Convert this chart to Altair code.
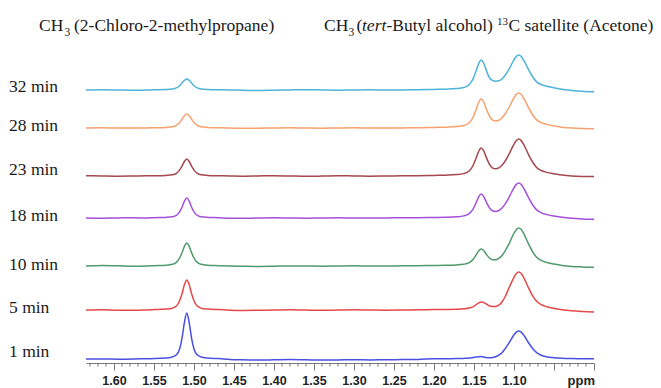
import altair as alt
import pandas as pd

# ---------------- data ----------------
series = ["32 min", "28 min", "23 min", "18 min", "10 min", "5 min", "1 min"]
colors = ["#4db3d9", "#f5a170", "#a5474d", "#a44fdc", "#4f9a6d", "#e4484a", "#4a50e0"]
offsets = [273, 235, 187, 145, 97, 53, 4]          # vertical stacking of each trace
label_y = [271, 232, 188, 142, 93, 50, 6]           # baseline of each row label

ppm = [1.635, 1.615, 1.595, 1.575, 1.56,
       1.549, 1.535, 1.527, 1.522, 1.518, 1.515, 1.512, 1.509, 1.506, 1.503, 1.500, 1.496, 1.491, 1.483, 1.469,
       1.455, 1.44, 1.42, 1.40, 1.38, 1.36, 1.34, 1.32, 1.30, 1.28, 1.26, 1.24, 1.22,
       1.200, 1.185, 1.172, 1.163, 1.156, 1.151, 1.147, 1.144, 1.141, 1.138, 1.135, 1.131, 1.127,
       1.123, 1.119, 1.115, 1.111, 1.106, 1.101, 1.097, 1.094, 1.091, 1.087, 1.082, 1.077, 1.072,
       1.066, 1.059, 1.05, 1.04, 1.028, 1.015, 1.00]

int_32 = [0.0, 0.3, 0.0, -0.3, 0.0,
          0.19, 0.45, 0.96, 2.1, 4.3, 6.9, 9.6, 11.0, 9.6, 6.9, 4.3, 2.1, 0.96, 0.45, 0.19,
          0.1, -0.2, -0.4, -0.2, 0.1, 0.3, 0.1, -0.2, 0.0, 0.2, 0.0, 0.1, 0.3,
          0.58, 0.86, 1.43, 2.49, 5.33, 11.37, 19.92, 26.68, 29.98, 27.03, 20.61, 12.75, 9.6,
          8.8, 9.2, 11.0, 14.8, 21.03, 28.83, 33.6, 34.91, 33.49, 28.6, 20.56, 13.5, 8.37,
          5.5, 3.8, 2.3, 0.7, -0.4, -1.25, -1.8]
int_28 = [0.0, 0.2, 0.0, 0.0, 0.1,
          0.24, 0.6, 1.2, 2.7, 5.5, 8.75, 12.2, 14.0, 12.2, 8.75, 5.5, 2.7, 1.2, 0.6, 0.24,
          0.0, -0.3, -0.2, 0.0, 0.2, 0.0, -0.2, 0.0, 0.2, 0.0, -0.1, 0.1, 0.2,
          0.57, 0.85, 1.40, 2.42, 5.18, 11.01, 19.27, 25.79, 28.98, 26.14, 19.96, 12.39, 8.17,
          6.99, 7.77, 10.21, 14.24, 21.01, 28.81, 33.59, 34.9, 33.48, 28.59, 20.55, 13.49, 8.37,
          5.3, 3.6, 2.0, 0.8, -0.1, -0.6, -0.8]
int_23 = [0.3, 0.0, -0.2, 0.0, 0.2,
          0.25, 0.6, 1.2, 2.7, 5.9, 9.8, 14.5, 17.0, 14.5, 9.8, 5.9, 2.7, 1.2, 0.6, 0.25,
          0.0, -0.2, 0.0, 0.3, 0.0, -0.3, -0.1, 0.2, 0.1, -0.2, 0.0, 0.2, 0.3,
          0.58, 0.85, 1.40, 2.40, 5.07, 10.71, 18.68, 24.98, 28.07, 25.34, 19.41, 12.17, 8.17,
          7.14, 8.06, 10.67, 14.98, 22.15, 30.43, 35.49, 36.88, 35.38, 30.22, 21.71, 14.25, 8.83,
          5.5, 3.6, 2.2, 1.0, 0.1, -0.4, -0.6]
int_18 = [0.0, -0.2, 0.1, 0.2, 0.0,
          0.3, 0.6, 1.2, 2.6, 6.2, 10.8, 16.8, 20.0, 16.8, 10.8, 6.2, 2.6, 1.2, 0.6, 0.3,
          -0.2, -0.3, 0.0, 0.2, 0.0, -0.2, 0.0, 0.2, 0.0, -0.1, 0.1, 0.2, 0.3,
          0.52, 0.76, 1.24, 2.11, 4.40, 9.19, 15.99, 21.34, 23.99, 21.69, 16.68, 10.58, 7.27,
          6.51, 7.48, 10.0, 14.11, 20.93, 28.8, 33.6, 34.93, 33.51, 28.62, 20.55, 13.49, 8.35,
          5.2, 3.4, 2.0, 0.7, -0.3, -0.9, -1.2]
int_10 = [0.0, 0.6, 0.2, -0.2, 0.0,
          0.35, 0.8, 1.7, 3.6, 8.0, 13.2, 19.7, 23.0, 19.7, 13.2, 8.0, 3.6, 1.7, 0.8, 0.35,
          0.0, -0.2, -0.4, -0.2, 0.1, 0.0, -0.2, 0.0, 0.2, 0.0, 0.0, 0.2, 0.3,
          0.49, 0.68, 1.06, 1.73, 3.37, 6.71, 11.42, 15.15, 17.03, 15.52, 12.17, 8.22, 6.26,
          6.19, 7.59, 10.5, 15.09, 22.63, 31.29, 36.55, 38.02, 36.49, 31.17, 22.38, 14.67, 9.06,
          5.6, 3.5, 2.0, 0.6, -0.4, -0.9, -1.2]
int_5 = [0.0, 0.3, -0.3, -0.2, 0.1,
         0.4, 0.9, 1.8, 3.9, 9.3, 16.2, 25.2, 30.0, 25.2, 16.2, 9.3, 3.9, 1.8, 0.9, 0.4,
         -0.2, -0.5, -0.3, 0.0, 0.2, -0.1, -0.3, 0.0, 0.2, 0.0, -0.2, 0.0, 0.2,
         0.40, 0.53, 0.77, 1.16, 1.95, 3.43, 5.50, 7.14, 8.03, 7.52, 6.26, 4.3, 3.6,
         3.5, 4.8, 8.0, 13.5, 22.46, 31.2, 36.49, 37.99, 36.46, 31.15, 22.35, 14.64, 9.02,
         5.4, 3.3, 1.6, 0.3, -0.8, -1.5, -2.0]
int_1 = [0.0, 0.0, -0.2, 0.0, 0.3,
         0.4, 1.0, 2.0, 4.2, 10.0, 20.7, 36.4, 46.0, 36.4, 20.7, 10.0, 4.2, 2.0, 1.0, 0.4,
         -0.5, -0.8, -1.0, -0.8, -0.6, -0.8, -1.0, -0.9, -0.7, -0.9, -0.8, -0.6, -0.4,
         0.25, 0.32, 0.44, 0.60, 0.9, 1.5, 2.0, 2.3, 2.4, 2.1, 1.5, 1.2, 1.4,
         2.3, 3.9, 6.3, 10.4, 16.4, 23.0, 26.9, 28.0, 26.9, 23.0, 16.5, 10.8, 6.6,
         3.7, 2.1, 1.3, 0.8, 0.5, 0.3, 0.2]
intensities = [int_32, int_28, int_23, int_18, int_10, int_5, int_1]

major_ticks = [1.60, 1.55, 1.50, 1.45, 1.40, 1.35, 1.30, 1.25, 1.20, 1.15, 1.10, 1.05, 1.00]
minor_ticks = [1.63, 1.62, 1.61, 1.59, 1.58, 1.57, 1.56, 1.54, 1.53, 1.52, 1.51, 1.49, 1.48,
               1.47, 1.46, 1.44, 1.43, 1.42, 1.41, 1.39, 1.38, 1.37, 1.36, 1.34, 1.33, 1.32,
               1.31, 1.29, 1.28, 1.27, 1.26, 1.24, 1.23, 1.22, 1.21, 1.19, 1.18, 1.17, 1.16,
               1.14, 1.13, 1.12, 1.11, 1.09, 1.08, 1.07, 1.06, 1.04, 1.03, 1.02, 1.01]

# ---------------- table ----------------
rows = []
for name, off, vals in zip(series, offsets, intensities):
    for p, v in zip(ppm, vals):
        rows.append({"series": name, "ppm": p, "y": off + v})
df = pd.DataFrame(rows)

W, H = 508, 323
xscale = alt.Scale(domain=[1.0, 1.635], reverse=True, nice=False, zero=False)
yscale = alt.Scale(domain=[0, H], nice=False, zero=False)

serif = "Liberation Serif"
sans = "Liberation Sans"
ink = "#1a1a1a"

xaxis = alt.Axis(
    values=major_ticks,
    labelExpr="datum.value > 1.07 ? format(datum.value, '.2f') : ''",
    tickSize=7, tickColor="#777777", tickWidth=1,
    domainColor="#777777", domainWidth=1,
    labelFont=sans, labelFontSize=12.5, labelFontWeight="bold", labelColor="#222222",
    labelPadding=4, labelFlush=False, labelOverlap=False, grid=False, title=None)

lines = alt.Chart(df).mark_line(interpolate="monotone", strokeWidth=1.5).encode(
    x=alt.X("ppm:Q", scale=xscale, axis=xaxis),
    y=alt.Y("y:Q", scale=yscale, axis=None),
    color=alt.Color("series:N", scale=alt.Scale(domain=series, range=colors), legend=None),
)

minor = alt.Chart(pd.DataFrame({"ppm": minor_ticks})).mark_rule(color="#777777", strokeWidth=1).encode(
    x=alt.X("ppm:Q", scale=xscale, axis=xaxis),
    y=alt.value(H), y2=alt.value(H + 3.5),
)

row_labels = alt.Chart(pd.DataFrame({"label": series, "y": label_y})).mark_text(
    align="left", baseline="alphabetic", font=serif, fontSize=17.5, color=ink
).encode(
    x=alt.value(-77),
    y=alt.Y("y:Q", scale=yscale, axis=None),
    text="label:N",
)


def piece(text, x, y, size=17.5, style="normal"):
    return alt.Chart(pd.DataFrame({"t": [text]})).mark_text(
        align="left", baseline="alphabetic", font=serif, fontSize=size,
        fontStyle=style, color=ink
    ).encode(x=alt.value(x), y=alt.value(y), text="t:N")


titles = [
    piece("CH", -47, -9), piece("3", -21.5, -4, 11.5), piece("(2-Chloro-2-methylpropane)", -12, -9),
    piece("CH", 238, -9), piece("3", 262.5, -4, 11.5), piece("(", 270.5, -9),
    piece("tert", 276, -9, style="italic"), piece("-Butyl alcohol)", 300.5, -9),
    piece("13", 411, -15, 11), piece("C satellite (Acetone)", 422.5, -9),
]

ppm_label = alt.Chart(pd.DataFrame({"t": ["ppm"]})).mark_text(
    align="right", baseline="alphabetic", font=sans, fontSize=13, fontWeight="bold", color="#222222"
).encode(x=alt.value(W + 1), y=alt.value(H + 22), text="t:N")

chart = alt.layer(lines, minor, row_labels, ppm_label, *titles).properties(
    width=W, height=H,
    padding={"left": 86, "top": 40, "right": 67, "bottom": 25},
    autosize=alt.AutoSizeParams(type="none"),
    background="white",
).configure_view(stroke=None)

chart.save("out.html", embed_options={"renderer": "svg", "actions": False})
